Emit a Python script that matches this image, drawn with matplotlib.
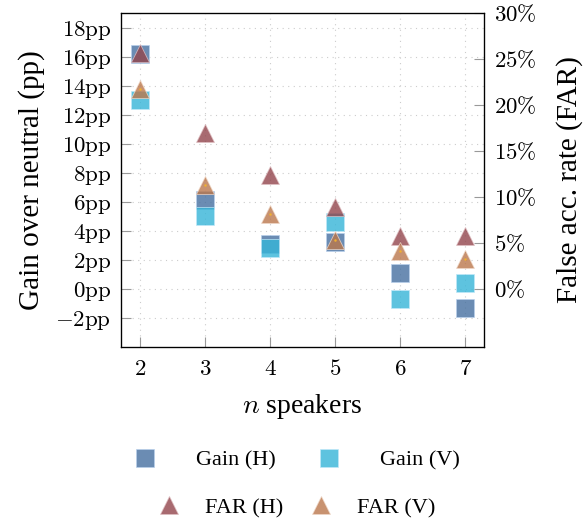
import matplotlib
matplotlib.use("Agg")
import matplotlib.pyplot as plt
from matplotlib.lines import Line2D

plt.rcParams['font.family'] = ['Liberation Serif', 'DejaVu Serif']
plt.rcParams['mathtext.fontset'] = 'cm'

# data
speakers = [2, 3, 4, 5, 6, 7]
gain_h = [16.2, 6.1, 3.1, 3.2, 1.1, -1.3]
gain_v = [13.0, 5.0, 2.8, 4.6, -0.7, 0.4]
far_h = [25.7, 17.0, 12.4, 8.9, 5.8, 5.8]
far_v = [21.7, 11.3, 8.1, 5.3, 4.1, 3.2]

left_ticks = list(range(-2, 19, 2))
right_ticks = list(range(0, 31, 5))

c_gain_h = '#4670a0'
c_gain_v = '#36b5d8'
c_far_h = '#92454c'
c_far_v = '#bb774c'
alpha = 0.8
ms = 12.5

fig = plt.figure(figsize=(5.84, 5.21), dpi=100)
ax = fig.add_axes([0.207, 0.334, 0.622, 0.641])
ax2 = ax.twinx()

ax.plot(speakers, gain_h, ls='none', marker='s', ms=ms, color=c_gain_h, alpha=alpha,
        mec='#b8d0ec', mew=0.6, zorder=3)
ax.plot(speakers, gain_v, ls='none', marker='s', ms=ms, color=c_gain_v, alpha=alpha,
        mec='#c0e8f8', mew=0.6, zorder=3)
ax2.plot(speakers, far_h, ls='none', marker='^', ms=ms, color=c_far_h, alpha=alpha,
         mec='#e0c0c4', mew=0.6, zorder=3)
ax2.plot(speakers, far_v, ls='none', marker='^', ms=ms, color=c_far_v, alpha=alpha,
         mec='#f0d8c8', mew=0.6, zorder=3)
ax2.plot(speakers, far_v, ls='none', marker='o', ms=1.8, color='#f0b030', mew=0, zorder=4)

ax.set_xlim(1.71, 7.29)
ax.set_ylim(-4, 19)
ax2.set_ylim(-4 * 30 / 19, 30)

ax.set_xticks(speakers)
ax.set_xticklabels([r'$%d$' % s for s in speakers])
ax.set_yticks(left_ticks)
ax.set_yticklabels([r'$%d\mathrm{pp}$' % t if t >= 0 else r'$-%d\mathrm{pp}$' % -t
                    for t in left_ticks])
ax2.set_yticks(right_ticks)
ax2.set_yticklabels([r'$%d\%%$' % t for t in right_ticks])

for a in (ax, ax2):
    a.tick_params(direction='in', length=7, width=0.8, color='#999999', labelsize=16.5)
ax.tick_params(axis='y', pad=7)
ax.tick_params(axis='x', pad=9)
ax2.tick_params(axis='y', pad=7)

ax.grid(True, ls=(0, (1, 4)), color='#cccccc', lw=0.8)
ax.set_axisbelow(True)
for sp in ax2.spines.values():
    sp.set_linewidth(0.9)

ax.set_xlabel(r'$n$ speakers', fontsize=20, labelpad=8)
ax.set_ylabel('Gain over neutral (pp)', fontsize=21, labelpad=7)
ax2.set_ylabel('False acc. rate (FAR)', fontsize=21, labelpad=14)

def handle(marker, color, edge):
    return Line2D([], [], ls='none', marker=marker, ms=ms, color=color, alpha=alpha,
                  mec=edge, mew=0.6)

fig.legend([handle('s', c_gain_h, '#b8d0ec'), handle('s', c_gain_v, '#c0e8f8')],
           ['Gain (H)', 'Gain (V)'], loc='center', bbox_to_anchor=(0.508, 0.117),
           ncol=2, frameon=False, fontsize=16, handlelength=1.0,
           handletextpad=1.8, columnspacing=1.9)
fig.legend([handle('^', c_far_h, '#e0c0c4'), handle('^', c_far_v, '#f0d8c8')],
           ['FAR (H)', 'FAR (V)'], loc='center', bbox_to_anchor=(0.508, 0.025),
           ncol=2, frameon=False, fontsize=16, handlelength=1.0,
           handletextpad=1.1, columnspacing=1.2)

fig.savefig('out.png', dpi=100)
